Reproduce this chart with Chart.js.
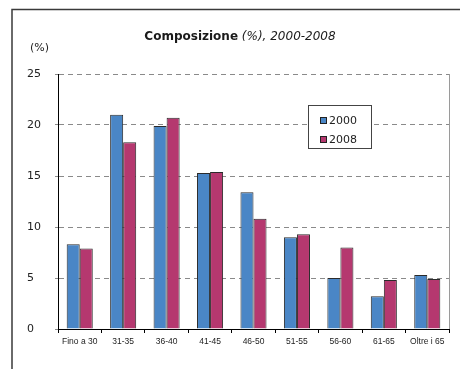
<!DOCTYPE html>
<html>
<head>
<meta charset="utf-8">
<script src="https://cdn.jsdelivr.net/npm/chart.js@4/dist/chart.umd.min.js"></script>
<style>
  html, body { margin: 0; padding: 0; background: #ffffff; }
  #wrap { position: relative; width: 460px; height: 369px; }
</style>
</head>
<body>
<div id="wrap"><canvas id="c" width="460" height="369"></canvas></div>
<script>
// Age classes and share of each class (%)
const categories = ['Fino a 30', '31-35', '36-40', '41-45', '46-50', '51-55', '56-60', '61-65', 'Oltre i 65'];
const years = ['2000', '2008'];
const values2000 = [8.3, 21.0, 19.9, 15.3, 13.4, 9.0, 5.0, 3.2, 5.3];
const values2008 = [7.9, 18.3, 20.7, 15.4, 10.8, 9.3, 8.0, 4.8, 4.9];
const yTicks = [0, 5, 10, 15, 20, 25];

const BLUE = '#4a86c6';
const MAGENTA = '#b5386f';
const UI_FONT = '"DejaVu Sans", Verdana, sans-serif';

// Frame, title, unit label, right edge of the plot and legend box
const decorations = {
  id: 'decorations',
  afterDraw(chart) {
    const ctx = chart.ctx;
    const area = chart.chartArea;
    ctx.save();

    // outer frame (top and left sides)
    ctx.strokeStyle = '#3a3a3a';
    ctx.lineWidth = 1.5;
    ctx.beginPath();
    ctx.moveTo(460, 9.5);
    ctx.lineTo(12, 9.5);
    ctx.lineTo(12, 369);
    ctx.stroke();

    // right edge of the plot area
    ctx.strokeStyle = '#9a9a9a';
    ctx.lineWidth = 1;
    ctx.beginPath();
    ctx.moveTo(Math.round(area.right) + 0.5, area.top);
    ctx.lineTo(Math.round(area.right) + 0.5, area.bottom);
    ctx.stroke();

    // title: bold part followed by italic part
    const boldPart = 'Composizione';
    const italicPart = ' (%), 2000-2008';
    ctx.textBaseline = 'middle';
    ctx.fillStyle = '#1a1a1a';
    ctx.font = 'bold 12px ' + UI_FONT;
    const w1 = ctx.measureText(boldPart).width;
    ctx.font = 'italic 12px ' + UI_FONT;
    const w2 = ctx.measureText(italicPart).width;
    let tx = 240 - (w1 + w2) / 2;
    ctx.textAlign = 'left';
    ctx.font = 'bold 12px ' + UI_FONT;
    ctx.fillText(boldPart, tx, 37);
    ctx.font = 'italic 12px ' + UI_FONT;
    ctx.fillText(italicPart, tx + w1, 37);

    // unit label above the value axis
    ctx.font = '11px ' + UI_FONT;
    ctx.fillStyle = '#222';
    ctx.fillText('(%)', 30, 48);

    // legend box
    const lx = 308.5, ly = 105.5, lw = 63, lh = 43;
    ctx.fillStyle = '#ffffff';
    ctx.fillRect(lx, ly, lw, lh);
    ctx.strokeStyle = '#444';
    ctx.lineWidth = 1;
    ctx.strokeRect(lx, ly, lw, lh);
    chart.data.datasets.forEach((ds, i) => {
      const sy = 117.5 + i * 19;
      ctx.fillStyle = ds.backgroundColor;
      ctx.fillRect(320.5, sy, 6, 6);
      ctx.strokeStyle = '#222';
      ctx.strokeRect(320.5, sy, 6, 6);
      ctx.fillStyle = '#222';
      ctx.font = '11px ' + UI_FONT;
      ctx.textBaseline = 'middle';
      ctx.fillText(ds.label, 329, sy + 3.5);
    });

    ctx.restore();
  }
};

new Chart(document.getElementById('c'), {
  type: 'bar',
  data: {
    labels: categories,
    datasets: [
      { label: years[0], data: values2000, backgroundColor: BLUE, borderColor: '#2b2b2b', borderWidth: 1 },
      { label: years[1], data: values2008, backgroundColor: MAGENTA, borderColor: '#2b2b2b', borderWidth: 1 }
    ]
  },
  options: {
    responsive: false,
    animation: false,
    devicePixelRatio: 1,
    layout: { padding: { left: 27, top: 74, right: 11, bottom: 0 } },
    categoryPercentage: 0.6,
    barPercentage: 1.0,
    plugins: {
      legend: { display: false },
      title: { display: false },
      tooltip: { enabled: false }
    },
    scales: {
      x: {
        grid: {
          display: true,
          offset: true,
          drawOnChartArea: false,
          drawTicks: true,
          tickLength: 4,
          color: '#000',
          tickColor: '#000'
        },
        border: { display: true, color: '#000', width: 1 },
        ticks: {
          color: '#222',
          font: { family: '"Liberation Sans", Arial, sans-serif', size: 8.5 },
          padding: 4,
          maxRotation: 0,
          autoSkip: false
        },
        afterFit(scale) { scale.height = 40; }
      },
      y: {
        min: 0,
        max: 25,
        afterBuildTicks(scale) { scale.ticks = yTicks.map(v => ({ value: v })); },
        grid: {
          color: ctx => (ctx.tick && ctx.tick.value === 0 ? 'rgba(0,0,0,0)' : '#8a8a8a'),
          tickColor: '#8a8a8a',
          tickLength: 3,
          lineWidth: 1
        },
        border: { display: true, color: '#000', width: 1, dash: [5, 4] },
        ticks: {
          color: '#222',
          font: { family: UI_FONT, size: 11 },
          crossAlign: 'far',
          padding: 4
        },
        afterFit(scale) { scale.width = 31; }
      }
    }
  },
  plugins: [decorations]
});
</script>
</body>
</html>
